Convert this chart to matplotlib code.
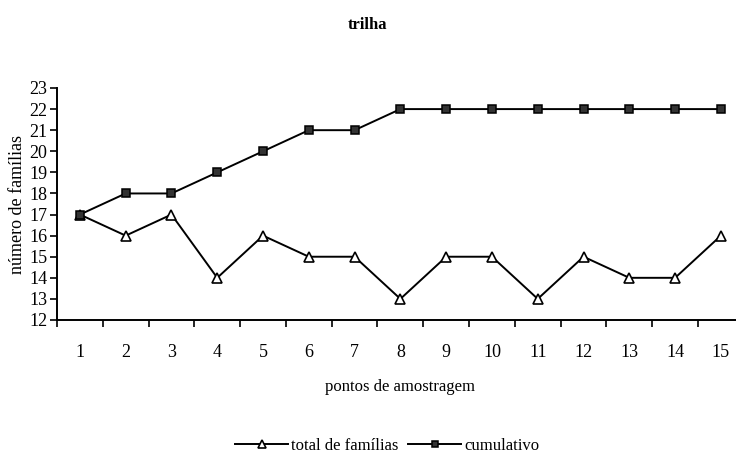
import matplotlib
matplotlib.use('Agg')
import matplotlib.pyplot as plt
from matplotlib.ticker import FixedLocator, NullFormatter

plt.rcParams['font.family'] = ['Liberation Serif', 'DejaVu Serif']

# pontos de amostragem na trilha
pontos = list(range(1, 16))
total_familias = [17, 16, 17, 14, 16, 15, 15, 13, 15, 15, 13, 15, 14, 14, 16]
cumulativo = [17, 18, 18, 19, 20, 21, 21, 22, 22, 22, 22, 22, 22, 22, 22]

fig = plt.figure(figsize=(7.36, 4.59), dpi=100)
ax = fig.add_axes([57 / 736, 139 / 459, 679 / 736, 232 / 459])

ax.plot(pontos, total_familias, color='black', lw=1.4, marker='^',
        markersize=7, markerfacecolor='white', markeredgecolor='black',
        markeredgewidth=1.2, label='total de famílias')
ax.plot(pontos, cumulativo, color='black', lw=1.4, marker='s',
        markersize=6, markerfacecolor='#333333', markeredgecolor='black',
        markeredgewidth=1.1, label='cumulativo')

ax.set_xlim(0.5, 15.33)
ax.set_ylim(12, 23)
ax.set_yticks(range(12, 24))

# rótulos centrados nas categorias, marcas entre elas
ax.set_xticks(pontos)
ax.tick_params(axis='x', which='major', length=0, pad=17)
ax.xaxis.set_minor_locator(FixedLocator([p + 0.5 for p in range(0, 15)]))
ax.xaxis.set_minor_formatter(NullFormatter())
ax.tick_params(axis='x', which='minor', length=5, direction='out', width=1.2)
ax.tick_params(axis='y', length=5, direction='out', width=1.2, pad=2)
ax.tick_params(labelsize=13)

for s in ['top', 'right']:
    ax.spines[s].set_visible(False)
for s in ['left', 'bottom']:
    ax.spines[s].set_linewidth(1.4)

ax.set_ylabel('número de famílias', fontsize=13, labelpad=2)
fig.text(400 / 736, 1 - 387 / 459, 'pontos de amostragem', ha='center',
         va='center', fontsize=12)
fig.text(367 / 736, 1 - 25 / 459, 'trilha', ha='center', va='center',
         fontsize=12, fontweight='bold')

fig.legend(loc='center', bbox_to_anchor=(387 / 736, 1 - 446 / 459), ncol=2,
           frameon=False, fontsize=12, handlelength=3.2, columnspacing=0.6,
           handletextpad=0.15, markerscale=0.8)

fig.savefig('out.png', dpi=100)
